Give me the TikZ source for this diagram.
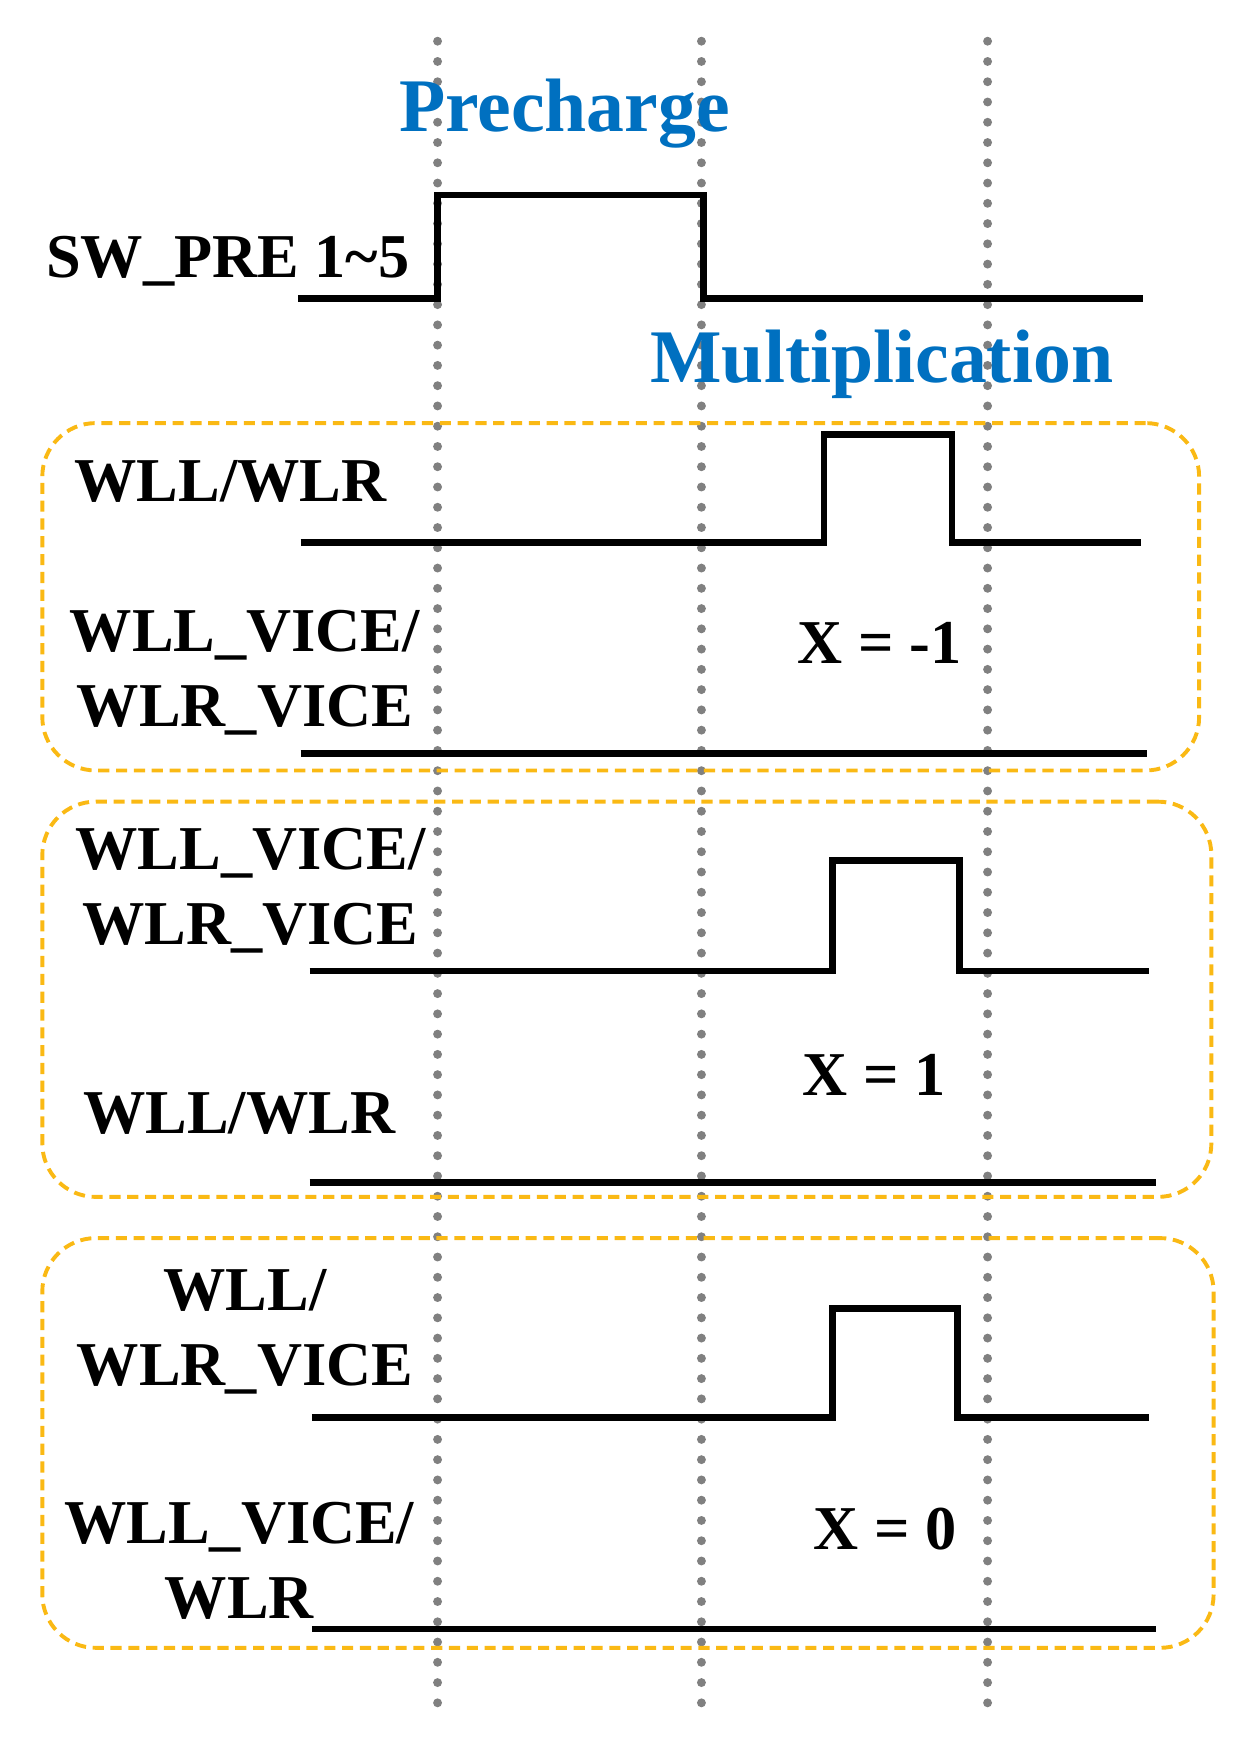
\documentclass[tikz,border=0pt]{standalone}
\usepackage{fontspec}
\setmainfont{Liberation Serif}
\begin{document}
\begin{tikzpicture}[x=1pt,y=-1pt,
  sig/.style={line width=6pt,line join=miter},
  grid/.style={gray,line width=8pt,line cap=round,dash pattern=on 0pt off 18.2pt},
  grp/.style={draw={rgb,255:red,250;green,185;blue,20},line width=3.5pt,dash pattern=on 10pt off 6pt,rounded corners=48pt},
  lab/.style={font=\fontsize{56}{67}\selectfont\bfseries,align=center,inner sep=0pt},
  ttl/.style={font=\fontsize{68}{70}\selectfont\bfseries,text={rgb,255:red,0;green,112;blue,192},inner sep=0pt}]
\useasboundingbox (0,0) rectangle (1110,1561);
\foreach \x/\n in {393/a,630/b,887/c}{
  \coordinate (t\n) at (\x,37); \coordinate (b\n) at (\x,1535);
  \draw[grid] (t\n) -- (b\n);}
\node[grp,minimum width=1039pt,minimum height=312pt] (g1) at (557.5,536) {};
\node[grp,minimum width=1050pt,minimum height=355pt] (g2) at (563,897.5) {};
\node[grp,minimum width=1052pt,minimum height=368pt] (g3) at (564,1296) {};
\node[ttl] (pre) at (507,102) {Precharge};
\node[ttl] (mul) at (792,327) {Multiplication};
\node[lab,anchor=east] (sw) at (368,235) {SW\_PRE 1\textasciitilde5};
\draw[sig] (268,268) -- (393,268) -- (393,175) -- (632,175) -- (632,268) -- (1027,268);
% group 1
\node[lab] (l1) at (207,432) {WLL/WLR};
\draw[sig] (270,487) -- (740,487) -- (740,390) -- (855,390) -- (855,487) -- (1025,487);
\node[lab] (l2) at (220,604) {WLL\_VICE/\\WLR\_VICE};
\draw[sig] (270,677) -- (1030,677);
\node[lab] (x1) at (790,577) {X = -1};
% group 2
\node[lab] (l3) at (225,800) {WLL\_VICE/\\WLR\_VICE};
\draw[sig] (278,872) -- (748,872) -- (748,773) -- (862,773) -- (862,872) -- (1032,872);
\node[lab] (x2) at (785,965) {X = 1};
\node[lab] (l4) at (215,1000) {WLL/WLR};
\draw[sig] (278,1062) -- (1038,1062);
% group 3
\node[lab] (l5) at (220,1196) {WLL/\\WLR\_VICE};
\draw[sig] (280,1273) -- (748,1273) -- (748,1175) -- (860,1175) -- (860,1273) -- (1032,1273);
\node[lab] (x3) at (795,1373) {X = 0};
\node[lab] (l6) at (215,1402) {WLL\_VICE/\\WLR};
\draw[sig] (280,1463) -- (1038,1463);
\end{tikzpicture}
\end{document}
